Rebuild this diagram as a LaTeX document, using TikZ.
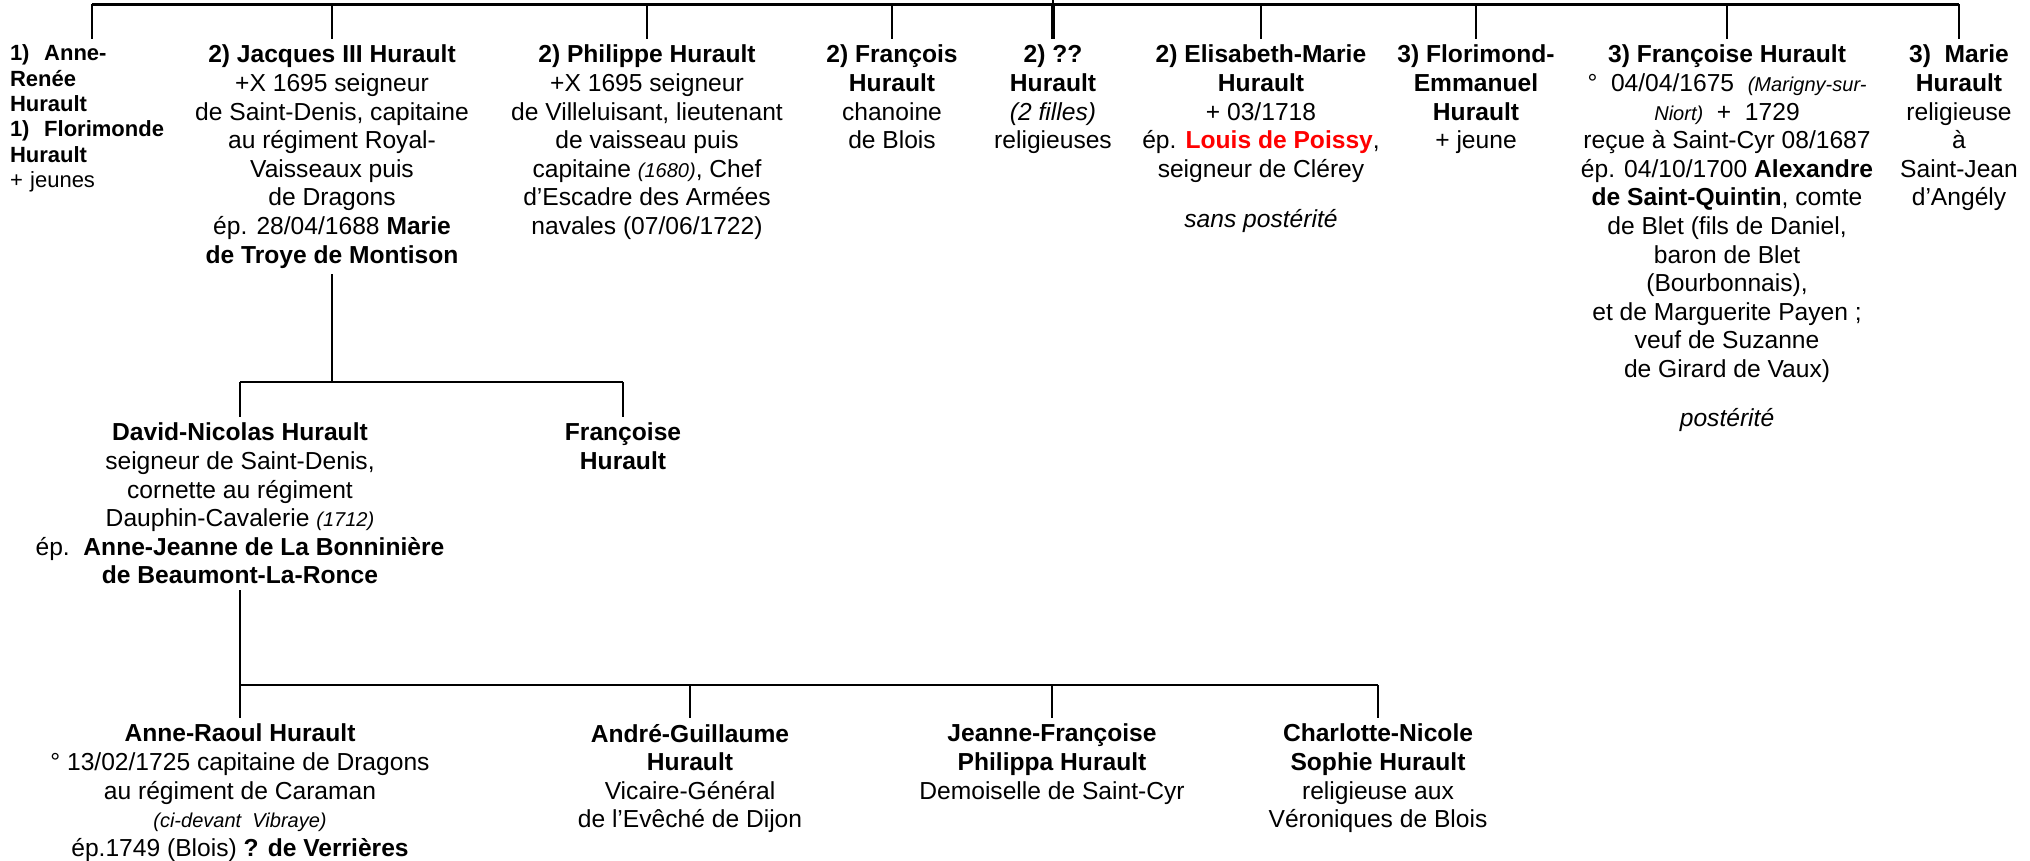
\documentclass[tikz,border=0pt]{standalone}
\usepackage{fontspec}
\setmainfont{Liberation Sans}

\tikzset{
  person/.style={anchor=north, align=center, inner sep=1.5pt, font=\fontsize{7}{8.14}\selectfont},
  link/.style={line width=0.65pt},
}
\newcommand{\smit}[1]{{\fontsize{5.7}{8.14}\selectfont\itshape #1}}

\begin{document}
\begin{tikzpicture}
        \useasboundingbox (0,0) rectangle (20.30,-8.61);
        \coordinate (top) at (0,-0.045);
        \coordinate (up) at (10.53,0);
        \coordinate (mid1) at (0,-3.82);
        \coordinate (mid2) at (0,-6.85);

        \node[person, align=left, text width=1.64cm, font=\fontsize{6.26}{7.2}\selectfont] (AR) at (0.92,-0.39) {\textbf{1)\ \ Anne-}\\ \textbf{Renée}\\ \textbf{Hurault}\\ \textbf{1)\ \ Florimonde}\\ \textbf{Hurault}\\ + jeunes};
        \node[person] (JH) at (3.32,-0.39) {\textbf{2) Jacques III Hurault}\\ +X 1695 seigneur\\ de Saint-Denis, capitaine\\ au régiment Royal-\\ Vaisseaux puis\\ de Dragons\\ ép. 28/04/1688 \textbf{Marie}\\ \textbf{de Troye de Montison}};
        \node[person] (PH) at (6.47,-0.39) {\textbf{2) Philippe Hurault}\\ +X 1695 seigneur\\ de Villeluisant, lieutenant\\ de vaisseau puis\\ capitaine \smit{(1680)}, Chef\\ d’Escadre des Armées\\ navales (07/06/1722)};
        \node[person] (FH) at (8.92,-0.39) {\textbf{2) François}\\ \textbf{Hurault}\\ chanoine\\ de Blois};
        \node[person] (UH) at (10.53,-0.39) {\textbf{2) ??}\\ \textbf{Hurault}\\ \textit{(2 filles)}\\ religieuses};
        \node[person] (EM) at (12.61,-0.39) {\textbf{2) Elisabeth-Marie}\\ \textbf{Hurault}\\ + 03/1718\\ ép. \textcolor{red}{\textbf{Louis de Poissy}},\\ seigneur de Clérey\\[6.1pt] \textit{sans postérité}};
        \node[person] (FE) at (14.76,-0.39) {\textbf{3) Florimond-}\\ \textbf{Emmanuel}\\ \textbf{Hurault}\\ + jeune};
        \node[person] (FS) at (17.27,-0.39) {\textbf{3) Françoise Hurault}\\ °\ \ 04/04/1675\ \ \smit{(Marigny-sur-}\\ \smit{Niort)}\ \ +\ \ 1729\\ reçue à Saint-Cyr 08/1687\\ ép. 04/10/1700 \textbf{Alexandre}\\ \textbf{de Saint-Quintin}, comte\\ de Blet (fils de Daniel,\\ baron de Blet\\ (Bourbonnais),\\ et de Marguerite Payen ;\\ veuf de Suzanne\\ de Girard de Vaux)\\[5.8pt] \textit{postérité}};
        \node[person] (MH) at (19.59,-0.39) {\textbf{3)\ \ Marie}\\ \textbf{Hurault}\\ religieuse\\ à\\ Saint-Jean\\ d’Angély};

        \node[person] (DN) at (2.40,-4.17) {\textbf{David-Nicolas Hurault}\\ seigneur de Saint-Denis,\\ cornette au régiment\\ Dauphin-Cavalerie \smit{(1712)}\\ ép.\ \ \textbf{Anne-Jeanne de La Bonninière}\\ \textbf{de Beaumont-La-Ronce}};
        \node[person] (FR) at (6.23,-4.17) {\textbf{Françoise}\\ \textbf{Hurault}};

        \node[person] (RH) at (2.40,-7.18) {\textbf{Anne-Raoul Hurault}\\ ° 13/02/1725 capitaine de Dragons\\ au régiment de Caraman\\ \smit{(ci-devant\ \ Vibraye)}\\ ép.1749 (Blois) \textbf{? de Verrières}};
        \node[person] (AG) at (6.90,-7.18) {\textbf{André-Guillaume}\\ \textbf{Hurault}\\ Vicaire-Général\\ de l’Evêché de Dijon};
        \node[person] (JF) at (10.52,-7.18) {\textbf{Jeanne-Françoise}\\ \textbf{Philippa Hurault}\\ Demoiselle de Saint-Cyr};
        \node[person] (CN) at (13.78,-7.18) {\textbf{Charlotte-Nicole}\\ \textbf{Sophie Hurault}\\ religieuse aux\\ Véroniques de Blois};

        \draw[link] (AR.north |- top) -- (MH.north |- top);
        \draw[link] (up) -- (UH.north |- top);
        \foreach \n in {AR,JH,PH,FH,EM,FE,FS,MH}
            \draw[link] (\n.north |- top) -- (\n.north);
        \draw[link, line width=1.4pt] (UH.north |- top) -- (UH.north);

        \draw[link] (JH.south) -- (JH.south |- mid1);
        \draw[link] (DN.north |- mid1) -- (FR.north |- mid1);
        \draw[link] (DN.north |- mid1) -- (DN.north);
        \draw[link] (FR.north |- mid1) -- (FR.north);

        \draw[link] (DN.south) -- (RH.north);
        \draw[link] (RH.north |- mid2) -- (CN.north |- mid2);
        \foreach \n in {AG,JF,CN}
            \draw[link] (\n.north |- mid2) -- (\n.north);
    \end{tikzpicture}
\end{document}
